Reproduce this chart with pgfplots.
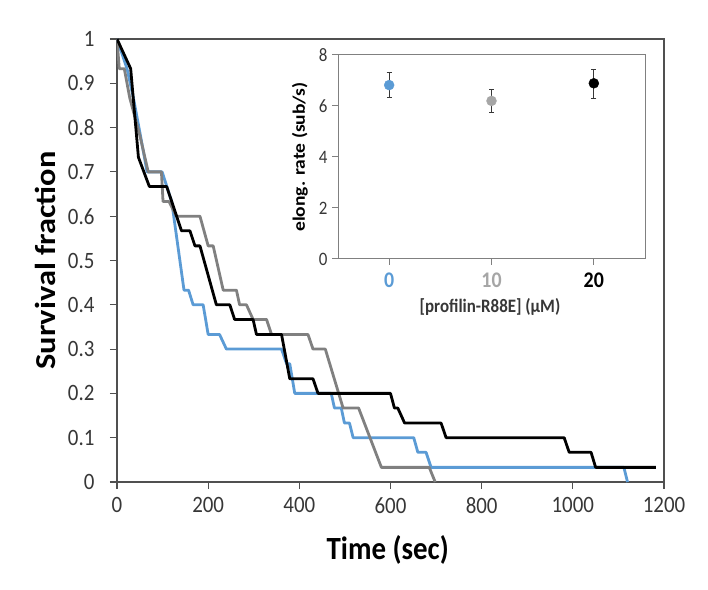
\documentclass[border=0pt]{standalone}
\usepackage{graphicx}
\usepackage{pgfplots}
\pgfplotsset{compat=1.18}
\usepackage{fontspec}
\setmainfont{Carlito}
\definecolor{myblue}{RGB}{91,155,213}
\definecolor{mygrey}{RGB}{128,128,128}
\definecolor{lightgrey}{RGB}{166,166,166}
\definecolor{axisgrey}{RGB}{80,80,80}
\definecolor{txtgrey}{RGB}{55,55,55}
\newcommand{\st}[1]{\scalebox{1}[1.12]{#1}}
\newcommand{\sr}[1]{\scalebox{1.12}[1]{#1}}
\begin{document}
\begin{tikzpicture}
\useasboundingbox (-117bp,-108bp) rectangle (591bp,482bp);
\begin{axis}[
  at={(0,0)}, anchor=south west,
  scale only axis, width=547bp, height=443bp,
  xmin=0, xmax=1200, ymin=0, ymax=1,
  xtick={0,200,400,600,800,1000,1200},
  xticklabels={\st{0},\st{200},\st{400},\st{600},\st{800},\st{1000},\st{1200}},
  ytick={0,0.1,0.2,0.3,0.4,0.5,0.6,0.7,0.8,0.9,1},
  yticklabels={\st{0},\st{0.1},\st{0.2},\st{0.3},\st{0.4},\st{0.5},\st{0.6},\st{0.7},\st{0.8},\st{0.9},\st{1}},
  tick align=outside, tick pos=left, major tick length=7bp,
  axis line style={axisgrey, line width=1.3bp},
  tick style={axisgrey, line width=1.1bp},
  ticklabel style={font=\fontsize{21}{23}\selectfont, text=txtgrey},
  yticklabel style={xshift=-12bp},
  xticklabel style={yshift=-5bp},
  xlabel={\st{\textbf{Time (sec)}}}, ylabel={\sr{\textbf{Survival fraction}}},
  xlabel style={font=\fontsize{29}{31}\selectfont, at={(axis description cs:0.495,-0.1535)}, anchor=center},
  ylabel style={font=\fontsize{29}{31}\selectfont, at={(axis description cs:-0.131,0.5)}, anchor=center},
  every axis plot/.append style={line width=2.8bp, line join=round},
]
\addplot[myblue] coordinates {
(0,1) (22,0.933) (36,0.867) (50,0.79) (66,0.7) (99,0.7) (120,0.633) (147,0.433)
(157,0.433) (167,0.4) (189,0.4) (200,0.333) (225,0.333) (240,0.3) (361,0.3)
(372,0.267) (379,0.267) (390,0.2) (470,0.2) (477,0.167) (492,0.167) (499,0.133)
(510,0.133) (518,0.1) (651,0.1) (660,0.067) (678,0.067) (689,0.033) (1112,0.033) (1120,0)
};
\addplot[mygrey] coordinates {
(0,1) (5,0.933) (16,0.933) (28,0.867) (50,0.783) (68.5,0.7) (97.5,0.7) (101,0.633)
(114,0.633) (130.5,0.6) (182,0.6) (200,0.533) (211,0.533) (233,0.433) (262,0.433)
(269,0.4) (284,0.4) (298.5,0.367) (328,0.367) (339,0.333) (419,0.333) (430,0.3)
(457,0.3) (496,0.167) (530,0.167) (580,0.033) (685,0.033) (698,0)
};
\addplot[black] coordinates {
(0,1) (30,0.933) (47,0.733) (71,0.667) (109,0.667) (141.5,0.567) (160,0.567)
(171,0.533) (182,0.533) (218,0.4) (247.5,0.4) (258,0.367) (298.5,0.367) (306,0.333)
(361,0.333) (379,0.233) (430,0.233) (441,0.2) (600,0.2) (608.6,0.167) (616,0.167)
(631,0.133) (711,0.133) (722,0.1) (981,0.1) (992,0.067) (1040,0.067) (1050,0.033) (1182,0.033)
};
\end{axis}
\begin{axis}[
  at={(221bp,223bp)}, anchor=south west,
  scale only axis, width=307bp, height=204bp,
  xmin=-5, xmax=25, ymin=0, ymax=8,
  xtick={0,10,20}, xticklabels={\st{\color{myblue}0},\st{\color{lightgrey}10},\st{\color{black}20}},
  ytick={0,2,4,6,8}, yticklabels={\st{0},\st{2},\st{4},\st{6},\st{8}},
  tick align=outside, tick pos=left, major tick length=6bp,
  axis line style={mygrey, line width=1bp},
  tick style={mygrey, line width=1bp},
  yticklabel style={font=\fontsize{17}{19}\selectfont, text=txtgrey, xshift=-1bp},
  xticklabel style={font=\fontsize{20}{22}\selectfont\bfseries, yshift=-4bp},
  xlabel={\st{\textbf{[profilin-R88E] (μM)}}}, ylabel={\sr{\textbf{elong. rate (sub/s)}}},
  xlabel style={font=\fontsize{17}{19}\selectfont, text=txtgrey, at={(axis description cs:0.495,-0.235)}, anchor=center},
  ylabel style={font=\fontsize{17.5}{19}\selectfont, text=black, at={(axis description cs:-0.124,0.5)}, anchor=center},
  error bars/error bar style={txtgrey, line width=0.9bp},
  error bars/error mark options={rotate=90, mark size=2.5bp, txtgrey, line width=0.9bp},
]
\addplot[only marks, mark=*, mark size=5bp, myblue, error bars/.cd, y dir=both, y explicit]
  coordinates {(0,6.82) += (0,0.5) -= (0,0.48)};
\addplot[only marks, mark=*, mark size=5bp, lightgrey, error bars/.cd, y dir=both, y explicit]
  coordinates {(10,6.2) += (0,0.43) -= (0,0.45)};
\addplot[only marks, mark=*, mark size=5bp, black, error bars/.cd, y dir=both, y explicit]
  coordinates {(20,6.89) += (0,0.56) -= (0,0.59)};
\end{axis}
\end{tikzpicture}
\end{document}
